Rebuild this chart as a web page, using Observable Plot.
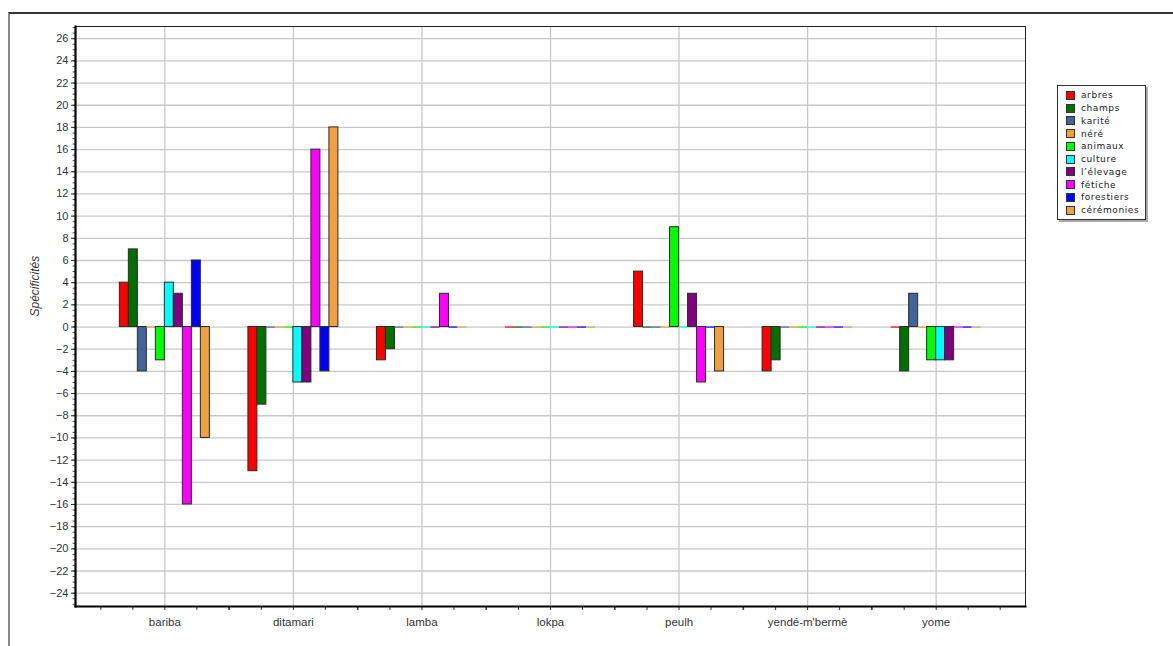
<!DOCTYPE html>
<html>
<head>
<meta charset="utf-8">
<script src="https://cdn.jsdelivr.net/npm/d3@7"></script>
<script src="https://cdn.jsdelivr.net/npm/@observablehq/plot@0.6"></script>
<style>
  html, body { margin: 0; padding: 0; background: #fff; }
  #wrap { position: relative; width: 1173px; height: 646px; overflow: hidden; }
  #outer { position: absolute; left: 8px; top: 12px; width: 1200px; height: 700px;
           border-top: 2px solid #333; border-left: 2px solid #8a8a8a; box-sizing: border-box; }
  #chart { position: absolute; left: 0; top: 0; }
  #legend { position: absolute; left: 1057px; top: 85px; width: 87px; padding: 3px 0 2px 0;
            border: 1px solid #333; background: #fff; box-shadow: 2px 2px 0 #aaa;
            font-family: "DejaVu Sans", Verdana, sans-serif; font-size: 9px; letter-spacing: 0.6px; color: #222; }
  .item { display: flex; align-items: center; height: 12.75px; }
  .sw { width: 7px; height: 7px; border: 1px solid #333; margin: 0 6px 0 8px; flex: none; }
</style>
</head>
<body>
<div id="wrap">
  <div id="outer"></div>
  <div id="chart"></div>
  <div id="legend"></div>
</div>
<script>
const groups = ["bariba", "ditamari", "lamba", "lokpa", "peulh", "yendé-m'bermè", "yome"];
const series = ["arbres", "champs", "karité", "néré", "animaux", "culture", "l’élevage", "fétiche", "forestiers", "cérémonies"];
const colors = ["#ff0000", "#007000", "#41649b", "#f0a030", "#00ff00", "#00ffff", "#800080", "#ff00ff", "#0000ff", "#f0a040"];

// values per series, in the order of groups
const arbres     = [4, -13, -3, 0, 5, -4, 0];
const champs     = [7, -7, -2, 0, 0, -3, -4];
const karite     = [-4, 0, 0, 0, 0, 0, 3];
const nere       = [0, 0, 0, 0, 0, 0, 0];
const animaux    = [-3, 0, 0, 0, 9, 0, -3];
const culture    = [4, -5, 0, 0, 0, 0, -3];
const elevage    = [3, -5, 0, 0, 3, 0, -3];
const fetiche    = [-16, 16, 3, 0, -5, 0, 0];
const forestiers = [6, -4, 0, 0, 0, 0, 0];
const ceremonies = [-10, 18, 0, 0, -4, 0, 0];
const seriesValues = [arbres, champs, karite, nere, animaux, culture, elevage, fetiche, forestiers, ceremonies];

const yTicks = d3.range(-24, 27, 2);
const yMinor = d3.range(-25, 27.01, 0.5);

const barW = 9;
const barMarks = series.flatMap((s, k) => {
  const data = groups.map((g, i) => ({group: g, series: s, value: seriesValues[k][i]}));
  return [
    Plot.barY(data.filter(d => d.value !== 0), {
      x: "group", y: "value",
      fill: colors[k],
      stroke: "#2a2a2a",
      strokeWidth: 1,
      dx: (k - 4.5) * barW
    }),
    Plot.tickY(data.filter(d => d.value === 0), {
      x: "group", y: "value",
      stroke: colors[k],
      strokeWidth: 1.2,
      dx: (k - 4.5) * barW
    })
  ];
});

const minorX = [-64, -32, 32, 64].map(off =>
  Plot.ruleX(groups, {x: d => d, y1: -25.2, y2: -25.55, dx: off, stroke: "#333"})
);

const plot = Plot.plot({
  width: 1173,
  height: 646,
  marginLeft: 75,
  marginRight: 148,
  marginTop: 26,
  marginBottom: 40,
  style: {fontFamily: "'Liberation Sans', Arial, sans-serif", background: "transparent"},
  x: {domain: groups, paddingInner: 0.93, paddingOuter: 0.66, round: false},
  y: {domain: [-25.2, 27.1]},
  marks: [
    Plot.gridY({ticks: yTicks, stroke: "#c8c8c8", strokeOpacity: 1, strokeWidth: 1.3}),
    Plot.gridX({stroke: "#c8c8c8", strokeOpacity: 1, strokeWidth: 1.3}),
    Plot.axisY({ticks: yMinor, tickSize: 2.5, tickFormat: () => "", label: null, stroke: "#555"}),
    Plot.axisY({ticks: yTicks, tickSize: 4, tickPadding: 3, fontSize: 11, label: null, color: "#333"}),
    Plot.axisX({tickSize: 4, tickPadding: 7, fontSize: 11.5, label: null, color: "#333"}),
    ...minorX,
    ...barMarks,
    Plot.frame({stroke: "#222", strokeWidth: 1}),
    Plot.frame({anchor: "left", stroke: "#000", strokeWidth: 2.2}),
    Plot.frame({anchor: "bottom", stroke: "#000", strokeWidth: 2.2}),
    Plot.text(["Spécificités"], {frameAnchor: "left", dx: -40, rotate: -90, fontStyle: "italic", fontSize: 12, fill: "#333"})
  ]
});
document.getElementById("chart").appendChild(plot);

const legend = document.getElementById("legend");
series.forEach((s, k) => {
  const it = document.createElement("div");
  it.className = "item";
  const sw = document.createElement("span");
  sw.className = "sw";
  sw.style.background = colors[k];
  const t = document.createElement("span");
  t.textContent = s;
  it.appendChild(sw);
  it.appendChild(t);
  legend.appendChild(it);
});
</script>
</body>
</html>
